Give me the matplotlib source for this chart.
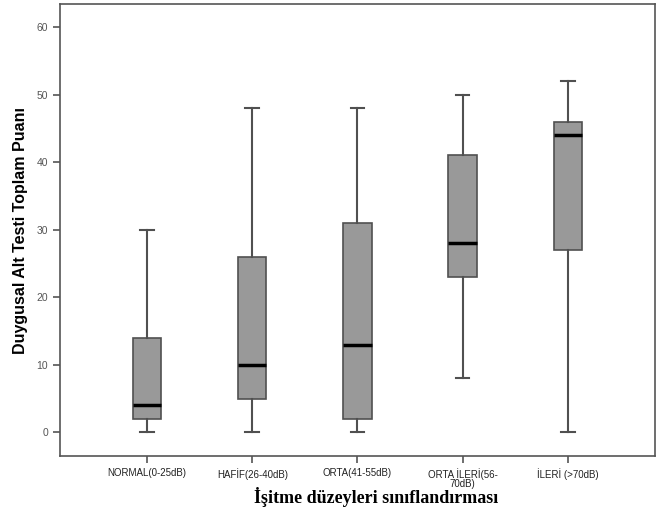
import numpy as np
import matplotlib
matplotlib.use('Agg')
import matplotlib.pyplot as plt

# hearing level groups and box statistics
categories = ['NORMAL(0-25dB)', 'HAFİF(26-40dB)', 'ORTA(41-55dB)',
              'ORTA İLERİ(56-\n70dB)', 'İLERİ (>70dB)']
whis_lo = [0, 0, 0, 8, 0]
q1 = [2, 5, 2, 23, 27]
median = [4, 10, 13, 28, 44]
q3 = [14, 26, 31, 41, 46]
whis_hi = [30, 48, 48, 50, 52]

stats = []
for i in range(len(categories)):
    stats.append({'whislo': whis_lo[i], 'q1': q1[i], 'med': median[i],
                  'q3': q3[i], 'whishi': whis_hi[i], 'fliers': []})

fig = plt.figure(figsize=(6.65, 5.15), dpi=100)
ax = fig.add_axes([0.09, 0.1146, 0.895, 0.8774])

edge = '#505050'
ax.bxp(stats, positions=np.arange(1, 6), widths=0.27, patch_artist=True,
       showfliers=False,
       boxprops={'facecolor': '#999999', 'edgecolor': edge, 'linewidth': 1.2},
       medianprops={'color': 'black', 'linewidth': 2.5},
       whiskerprops={'color': edge, 'linewidth': 1.5},
       capprops={'color': edge, 'linewidth': 1.5},
       capwidths=0.13)

ax.set_xlim(0.17, 5.83)
ax.set_ylim(-3.5, 63.4)
ax.set_yticks([0, 10, 20, 30, 40, 50, 60])
ax.set_xticks(np.arange(1, 6))
ax.set_xticklabels(categories, fontsize=7, family='Liberation Sans', color='#222222',
                   linespacing=0.9)
for lab in ax.get_yticklabels():
    lab.set_fontsize(7.5)
    lab.set_family('Liberation Sans')
    lab.set_color('#555555')
ax.tick_params(axis='both', direction='out', length=5, color='#555555', width=1.2)

for s in ax.spines.values():
    s.set_color('#555555')
    s.set_linewidth(1.2)

ax.set_ylabel('Duygusal Alt Testi Toplam Puanı', fontsize=11.5, fontweight='bold',
              family='Liberation Sans', labelpad=6)
fig.text(0.565, 0.035, 'İşitme düzeyleri sınıflandırması', ha='center', va='center',
         fontsize=13, fontweight='bold', family='Liberation Serif')

plt.savefig('out.png', dpi=100)
